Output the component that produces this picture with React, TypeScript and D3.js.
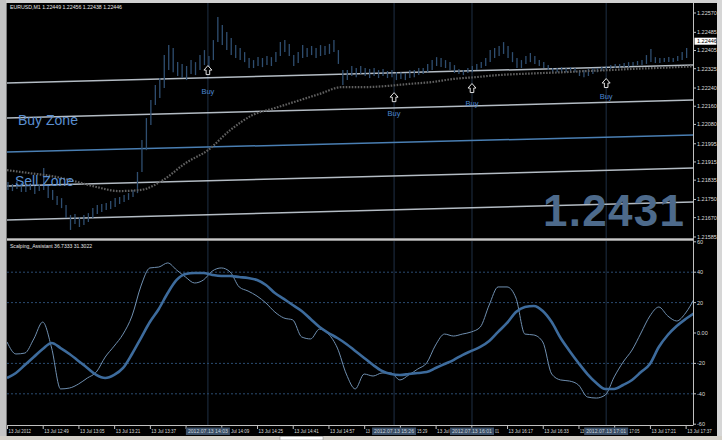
import React from 'react';
import * as d3 from 'd3';

// ---- price bars: 2-minute steps starting 13 Jul 12:33 ----
const barHigh = [
  1.21827,1.21818,1.21831,1.21822,1.21814,1.21822,1.21809,1.21818,1.21888,1.21814,
  1.21792,1.21765,1.21756,1.21726,1.21682,1.21686,1.21673,1.21682,1.21690,1.21712,
  1.21726,1.21730,1.21734,1.21743,1.21756,1.21761,1.21770,1.21778,1.21792,1.21871,
  1.22011,1.22108,1.22187,1.22253,1.22284,1.22385,1.22429,1.22416,1.22354,1.22346,
  1.22337,1.22363,1.22354,1.22385,1.22407,1.22381,1.22451,1.22552,1.22517,1.22486,
  1.22460,1.22429,1.22416,1.22398,1.22372,1.22363,1.22376,1.22372,1.22381,1.22376,
  1.22398,1.22442,1.22451,1.22434,1.22385,1.22398,1.22429,1.22416,1.22425,1.22416,
  1.22429,1.22425,1.22434,1.22451,1.22407,1.22319,1.22319,1.22337,1.22328,1.22337,
  1.22328,1.22324,1.22328,1.22319,1.22324,1.22315,1.22319,1.22310,1.22310,1.22306,
  1.22319,1.22319,1.22328,1.22328,1.22346,1.22363,1.22376,1.22372,1.22363,1.22354,
  1.22341,1.22324,1.22319,1.22328,1.22337,1.22346,1.22354,1.22372,1.22407,1.22416,
  1.22425,1.22442,1.22425,1.22398,1.22372,1.22363,1.22381,1.22394,1.22381,1.22363,
  1.22354,1.22341,1.22328,1.22328,1.22332,1.22328,1.22332,1.22328,1.22319,1.22319,
  1.22324,1.22328,1.22328,1.22332,1.22337,1.22341,1.22346,1.22346,1.22350,1.22354,
  1.22354,1.22359,1.22363,1.22385,1.22412,1.22376,1.22372,1.22372,1.22376,1.22372,
  1.22381,1.22398,1.22416,
];
const barLow = [
  1.21792,1.21787,1.21796,1.21783,1.21783,1.21792,1.21774,1.21787,1.21792,1.21756,
  1.21748,1.21726,1.21712,1.21668,1.21616,1.21642,1.21629,1.21638,1.21651,1.21668,
  1.21686,1.21695,1.21704,1.21708,1.21717,1.21730,1.21739,1.21748,1.21761,1.21778,
  1.21871,1.21967,1.22077,1.22165,1.22196,1.22240,1.22319,1.22310,1.22293,1.22284,
  1.22275,1.22302,1.22297,1.22319,1.22341,1.22328,1.22363,1.22442,1.22429,1.22407,
  1.22385,1.22372,1.22363,1.22354,1.22328,1.22328,1.22337,1.22332,1.22341,1.22337,
  1.22354,1.22381,1.22398,1.22381,1.22337,1.22350,1.22372,1.22376,1.22385,1.22372,
  1.22381,1.22385,1.22390,1.22398,1.22346,1.22253,1.22275,1.22293,1.22288,1.22302,
  1.22293,1.22284,1.22293,1.22284,1.22293,1.22284,1.22288,1.22275,1.22280,1.22275,
  1.22284,1.22288,1.22297,1.22302,1.22310,1.22319,1.22337,1.22332,1.22328,1.22319,
  1.22306,1.22302,1.22297,1.22306,1.22310,1.22319,1.22328,1.22337,1.22354,1.22372,
  1.22381,1.22390,1.22372,1.22354,1.22328,1.22328,1.22346,1.22354,1.22346,1.22337,
  1.22328,1.22319,1.22310,1.22310,1.22310,1.22310,1.22315,1.22310,1.22293,1.22288,
  1.22293,1.22302,1.22310,1.22315,1.22319,1.22324,1.22328,1.22328,1.22332,1.22332,
  1.22337,1.22341,1.22341,1.22346,1.22354,1.22350,1.22350,1.22354,1.22354,1.22354,
  1.22359,1.22363,1.22372,
];
const barStep = 2; // minutes

// moving average, every 10 minutes
const maValues = [
  1.21879,1.21866,1.21853,1.21831,1.21805,1.21787,1.21792,1.21836,1.21910,1.21967,
  1.22055,1.22121,1.22152,1.22183,1.22214,1.22244,1.22244,1.22249,1.22258,1.22266,
  1.22280,1.22288,1.22297,1.22302,1.22306,1.22310,1.22315,1.22319,1.22324,1.22328,
  1.22332,1.22337,
];
const maStep = 10;

// channel lines (start price, end price)
const channelStart = [1.22262, 1.22108, 1.21959, 1.21809, 1.21660];
const channelEnd = [1.22341, 1.22187, 1.22033, 1.21888, 1.21739];
const channelColors = ['#b4bcc4', '#b4bcc4', '#4a7fb3', '#b4bcc4', '#b4bcc4'];

const priceTicks = [1.2257, 1.22485, 1.22405, 1.22325, 1.2224, 1.2216, 1.2208, 1.21995, 1.21915, 1.21835, 1.2175, 1.2167, 1.21585];
const currentPrice = 1.22446;

// oscillator, every 4 minutes
const oscFast = [
  -5.9,-13.8,-13.2,-3.9,7.2,-9.9,-36.8,-36.2,-33.6,-29.6,
  -25.7,-15.8,-8.6,-0.7,11.2,30.9,42.8,43.4,46.1,41.4,
  36.8,32.9,34.9,40.8,42.8,40.1,30.3,27.6,24.3,19.7,
  13.8,9.9,8.6,-2.6,-3.9,2.6,-0.7,-9.9,-27.0,-36.8,
  -27.0,-28.3,-26.3,-26.3,-30.9,-27.6,-23.7,-19.7,-7.9,-0.7,
  -2.0,-0.7,0.7,3.9,18.4,30.3,30.3,23.0,-0.7,-1.3,
  -5.9,-27.0,-30.9,-31.6,-34.2,-42.1,-42.8,-40.8,-28.9,-19.1,
  -11.2,0,11.2,17.1,11.2,7.9,13.2,23.0,
];
const oscSlow = [
  -29.6,-26.3,-21.1,-15.8,-10.5,-6.6,-9.9,-13.8,-18.4,-23.0,
  -27.6,-29.6,-27.6,-23.0,-13.8,-3.3,7.2,15.8,26.3,34.9,
  38.8,39.5,39.5,38.2,37.5,37.5,36.8,36.2,34.9,31.6,
  26.3,22.4,18.4,14.5,9.2,3.9,0,-3.3,-7.2,-11.8,
  -16.4,-21.1,-25.0,-27.0,-27.6,-27.0,-26.3,-25.7,-23.0,-20.4,
  -17.8,-14.5,-11.8,-9.2,-5.3,0.7,6.6,13.8,17.1,17.8,
  14.5,7.2,-3.3,-11.8,-19.7,-27.0,-32.9,-36.8,-36.8,-34.2,
  -30.9,-25.7,-20.4,-9.2,-1.3,4.6,9.2,13.2,
];
const oscStep = 4;
const oscTicks = [60, 40, 20, 0, -20, -40, -60];
const oscGrid = [40, 20, -20, -40];

// time axis
const timeLabelMinutes = [0, 16, 32, 48, 64, 80, 96, 112, 128, 144, 160, 176, 192, 208, 224, 240, 256, 272, 288, 304];
const timeLabels = [
  '13 Jul 2012', '13 Jul 12:49', '13 Jul 13:05', '13 Jul 13:21', '13 Jul 13:37', '13 Jul 13:53',
  '13 Jul 14:09', '13 Jul 14:25', '13 Jul 14:41', '13 Jul 14:57', '13 Jul 15:13', '13 Jul 15:29',
  '13 Jul 15:45', '13 Jul 16:01', '13 Jul 16:17', '13 Jul 16:33', '13 Jul 16:49', '13 Jul 17:05',
  '13 Jul 17:21', '13 Jul 17:37',
];
const vlineMinutes = [90, 173.4, 208.3, 268.4];
const vlineLabels = ['2012.07.13 14:03', '2012.07.13 15:26', '2012.07.13 16:01', '2012.07.13 17:01'];

// buy signals
const buyMinutes = [90, 173.4, 208.3, 268.4];
const buyPrices = [1.22319, 1.222, 1.2224, 1.22262];
const buyTextPrices = [1.22227, 1.2213, 1.22174, 1.22205];

const FONT = '"Liberation Sans", Arial, sans-serif';
const CHAR_W = 2.05;
const BOX_HALF = 22;

export default function App() {
  const x = d3.scaleLinear().domain([0, 307.3]).range([7, 693]);
  const yP = d3.scaleLinear().domain([1.21585, 1.2257]).range([237, 13]);
  const yO = d3.scaleLinear().domain([-60, 60]).range([424.2, 241.8]);

  const maLine = d3.line<number>().x((_, i) => x(i * maStep)).y((v) => yP(v)).curve(d3.curveMonotoneX);
  const oscLine = d3.line<number>().x((_, i) => x(i * oscStep)).y((v) => yO(v)).curve(d3.curveMonotoneX);
  const fmt5 = d3.format('.5f');

  const arrow = (cx: number, cy: number) =>
    `M${cx},${cy - 4.5} L${cx + 4},${cy} L${cx + 1.8},${cy} L${cx + 1.8},${cy + 4.5} L${cx - 1.8},${cy + 4.5} L${cx - 1.8},${cy} L${cx - 4},${cy} Z`;

  // time labels: the parts that the vertical-line time boxes leave visible
  const boxes = vlineMinutes.map((m) => [x(m) - BOX_HALF, x(m) + BOX_HALF]);
  const visibleLabels: { x: number; text: string }[] = [];
  timeLabelMinutes.forEach((m, i) => {
    let text = timeLabels[i];
    let left = x(m) + 1.5;
    for (const [b0, b1] of boxes) {
      const right = left + text.length * CHAR_W;
      if (right <= b0 || left >= b1) continue;
      if (left < b0) {
        text = text.slice(0, Math.floor((b0 - left) / CHAR_W)).trim();
      } else if (right > b1) {
        text = text.slice(Math.round((b1 - left) / CHAR_W)).trim();
        left = b1 + 1;
      } else {
        text = '';
      }
    }
    if (text) visibleLabels.push({ x: left, text });
  });

  return (
    <svg width={722} height={440} style={{ position: 'absolute', left: 0, top: 0, display: 'block' }} fontFamily={FONT}>
      <defs>
        <clipPath id="topClip"><rect x={7} y={3} width={686} height={235} /></clipPath>
        <clipPath id="botClip"><rect x={7} y={241} width={686} height={184} /></clipPath>
      </defs>
      <rect x={0} y={0} width={722} height={440} fill="#000" />
      {/* frame */}
      <rect x={0} y={0} width={722} height={3} fill="#d0d0d0" />
      <rect x={0} y={0} width={6} height={440} fill="#c4c4c4" />
      <line x1={6.5} x2={6.5} y1={3} y2={436} stroke="#7a7a7a" />
      <rect x={717} y={0} width={5} height={440} fill="#d6d6d6" />
      <rect x={0} y={436} width={722} height={4} fill="#d4d0c8" />
      <rect x={280} y={436.5} width={43} height={3.5} fill="#fff" stroke="#888" strokeWidth={0.5} />

      {/* vertical lines */}
      {vlineMinutes.map((m, i) => (
        <line key={'vl' + i} x1={x(m)} x2={x(m)} y1={3} y2={425} stroke="#1f3045" strokeWidth={1} />
      ))}

      {/* top panel */}
      <g clipPath="url(#topClip)">
        {channelStart.map((s, i) => (
          <line key={'ch' + i} x1={x(0)} x2={x(307.3)} y1={yP(s)} y2={yP(channelEnd[i])}
            stroke={channelColors[i]} strokeWidth={1.5} />
        ))}
        {barHigh.map((h, i) => (
          <line key={'b' + i} x1={x(i * barStep) + 1} x2={x(i * barStep) + 1} y1={yP(h)} y2={yP(barLow[i])}
            stroke="#2f4e70" strokeWidth={1.3} />
        ))}
        <path d={maLine(maValues) || ''} fill="none" stroke="#606060" strokeWidth={2.2} strokeDasharray="1.6 1.4" />
        {buyMinutes.map((m, i) => (
          <g key={'buy' + i}>
            <path d={arrow(x(m), yP(buyPrices[i]))} fill="#000" stroke="#e0e0e0" strokeWidth={1} />
            <text x={x(m)} y={yP(buyTextPrices[i])} dy="0.35em" textAnchor="middle" fontSize={7.5} fill="#4b86cf">Buy</text>
          </g>
        ))}
        <text x={18} y={125} fontSize={14} fill="#5a8fd0">Buy Zone</text>
        <text x={15} y={186} fontSize={14} fill="#5a8fd0">Sell Zone</text>
        <text x={543} y={226} fontSize={44} fontWeight="bold" fill="#4d6a8b" letterSpacing={1.3}>1.2431</text>
      </g>
      <text x={10} y={7} dy="0.35em" fontSize={5.5} fill="#e6e6e6" textLength={112} lengthAdjust="spacingAndGlyphs">
        EURUSD,M1  1.22449 1.22456 1.22438 1.22446
      </text>

      {/* separator */}
      <rect x={7} y={238} width={686} height={3} fill="#8c8c8c" />
      <line x1={7} x2={693} y1={239.5} y2={239.5} stroke="#c8c8c8" strokeWidth={1} />

      {/* bottom panel */}
      <g clipPath="url(#botClip)">
        {oscGrid.map((v) => (
          <line key={'g' + v} x1={7} x2={693} y1={yO(v)} y2={yO(v)} stroke="#2a4b70" strokeWidth={1} strokeDasharray="2 2" />
        ))}
        <path d={oscLine(oscFast) || ''} fill="none" stroke="#6f8fb0" strokeWidth={1} />
        <path d={oscLine(oscSlow) || ''} fill="none" stroke="#3d6b9c" strokeWidth={2.6} />
      </g>
      <text x={10} y={246} dy="0.35em" fontSize={5.5} fill="#e6e6e6" textLength={82} lengthAdjust="spacingAndGlyphs">
        Scalping_Assistant 36.7333 31.3022
      </text>

      {/* right axis */}
      <line x1={693.5} x2={693.5} y1={3} y2={425} stroke="#c0c0c0" strokeWidth={1} />
      <line x1={7} x2={693.5} y1={425.5} y2={425.5} stroke="#c0c0c0" strokeWidth={1} />
      {priceTicks.map((p) => (
        <g key={'pt' + p}>
          <line x1={693} x2={696} y1={yP(p)} y2={yP(p)} stroke="#c0c0c0" />
          <text x={697} y={yP(p)} dy="0.35em" fontSize={5.5} fill="#dcdcdc">{fmt5(p)}</text>
        </g>
      ))}
      <rect x={694.5} y={yP(currentPrice) - 3.5} width={22} height={7} fill="#fff" />
      <text x={697} y={yP(currentPrice)} dy="0.35em" fontSize={5.5} fill="#000">{fmt5(currentPrice)}</text>
      {oscTicks.map((v) => (
        <g key={'ot' + v}>
          <line x1={693} x2={696} y1={yO(v)} y2={yO(v)} stroke="#c0c0c0" />
          <text x={697} y={yO(v)} dy="0.35em" fontSize={5.5} fill="#dcdcdc">{v === 0 ? '0.00' : String(v)}</text>
        </g>
      ))}

      {/* time axis */}
      {timeLabelMinutes.map((m, i) => (
        <line key={'tk' + i} x1={x(m) + 0.5} x2={x(m) + 0.5} y1={425} y2={429} stroke="#c0c0c0" />
      ))}
      {visibleLabels.map((l, i) => (
        <text key={'tl' + i} x={l.x} y={431} dy="0.35em" fontSize={5.5} fill="#dcdcdc"
          textLength={l.text.length * CHAR_W} lengthAdjust="spacingAndGlyphs">{l.text}</text>
      ))}
      {vlineMinutes.map((m, i) => (
        <g key={'vb' + i}>
          <rect x={x(m) - BOX_HALF} y={427.5} width={BOX_HALF * 2} height={7.5} fill="#3a4e66" />
          <text x={x(m)} y={431.3} dy="0.35em" textAnchor="middle" fontSize={5.5} fill="#c8d2dc"
            textLength={40} lengthAdjust="spacingAndGlyphs">{vlineLabels[i]}</text>
        </g>
      ))}
    </svg>
  );
}
